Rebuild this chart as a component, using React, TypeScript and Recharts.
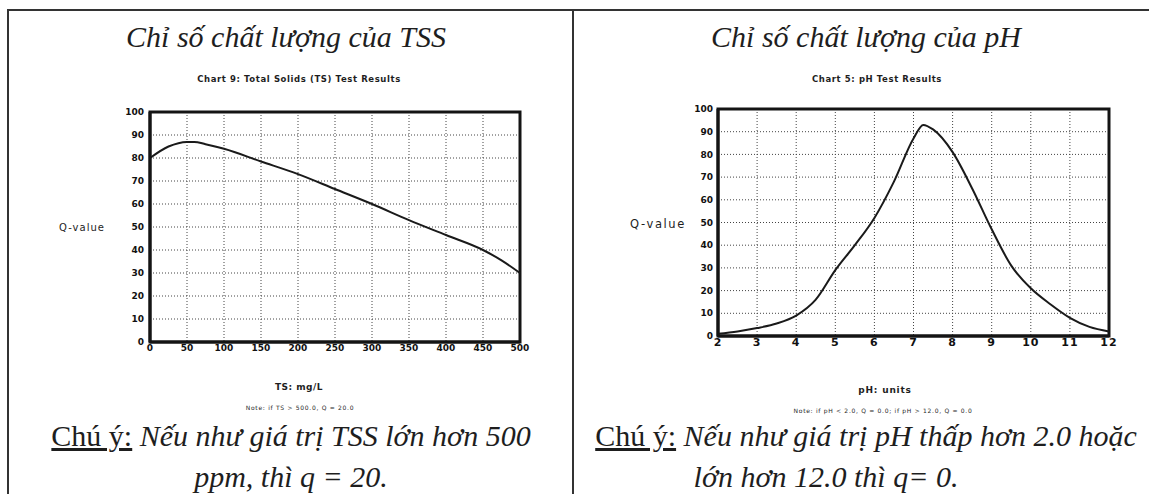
import React from "react";
import { LineChart, Line, XAxis, YAxis, CartesianGrid, ReferenceArea } from "recharts";

// TSS chart: Q-value vs TS (mg/L)
const tssX = [0, 25, 50, 60, 75, 100, 150, 200, 250, 300, 350, 400, 450, 475, 500];
const tssQ = [80, 85, 87, 87, 86, 84, 78.5, 73, 66.5, 60, 53, 46.5, 40, 35.5, 30];
const tssTicks = [0, 50, 100, 150, 200, 250, 300, 350, 400, 450, 500];

// pH chart: Q-value vs pH units
const phX = [2, 2.5, 3, 3.5, 4, 4.5, 5, 5.5, 6, 6.5, 7, 7.25, 7.5, 8, 8.5, 9, 9.5, 10, 10.5, 11, 11.5, 12];
const phQ = [1, 2, 3.5, 5.5, 9, 16, 29, 40, 52, 68, 87, 93, 91, 81, 65, 47, 31, 21, 14, 8, 4, 2];
const phTicks = [2, 3, 4, 5, 6, 7, 8, 9, 10, 11, 12];

const qTicks = [0, 10, 20, 30, 40, 50, 60, 70, 80, 90, 100];

const tssData = tssX.map((x, i) => ({ x, q: tssQ[i] }));
const phData = phX.map((x, i) => ({ x, q: phQ[i] }));

const SANS = "'DejaVu Sans', 'Liberation Sans', Arial, sans-serif";
const SERIF = "'Liberation Serif', 'Times New Roman', serif";
const INK = "#1e1e1e";

type TxtProps = { cx: number; base: number; size: number; children: React.ReactNode; bold?: boolean; italic?: boolean; family?: string; ls?: number };
const Txt = ({ cx, base, size, children, bold, italic, family, ls }: TxtProps) => (
  <div
    style={{
      position: "absolute",
      left: cx - 400,
      width: 800,
      top: base - size * 0.84,
      fontSize: size,
      lineHeight: `${size}px`,
      height: size,
      textAlign: "center",
      whiteSpace: "nowrap",
      fontFamily: family || SERIF,
      fontWeight: bold ? 700 : 400,
      fontStyle: italic ? "italic" : "normal",
      letterSpacing: ls || 0,
      color: INK,
    }}
  >
    {children}
  </div>
);

const Note = ({ cx, base, children, label }: { cx: number; base: number; children: React.ReactNode; label?: boolean }) => (
  <Txt cx={cx} base={base} size={30}>
    {label ? <span style={{ textDecoration: "underline" }}>Chú ý:</span> : null}
    {label ? " " : null}
    <span style={{ fontStyle: "italic" }}>{children}</span>
  </Txt>
);

const axisLine = { stroke: "#141414", strokeWidth: 3 };
const smallTick = { fontSize: 9, fill: "#111", fontFamily: SANS, fontWeight: 700 };

export default function App() {
  return (
    <div style={{ position: "absolute", left: 0, top: 0, width: 1149, height: 494, background: "#fff", overflow: "hidden", fontFamily: SANS }}>
      {/* table borders */}
      <div style={{ position: "absolute", left: 7, top: 9, width: 1142, height: 0, borderTop: "2px solid #333" }} />
      <div style={{ position: "absolute", left: 7, top: 9, width: 0, height: 485, borderLeft: "2px solid #333" }} />
      <div style={{ position: "absolute", left: 572, top: 9, width: 0, height: 485, borderLeft: "2px solid #333" }} />

      {/* Left: TSS */}
      <div style={{ position: "absolute", left: 0, top: 0 }}>
        <LineChart width={572} height={494} data={tssData} margin={{ top: 112, right: 52, bottom: 122, left: 110 }}>
          <CartesianGrid stroke="#444" strokeDasharray="1 2" />
          <XAxis dataKey="x" type="number" domain={[0, 500]} ticks={tssTicks} interval={0} tickLine={false} tickSize={0} tickMargin={3} height={30} axisLine={axisLine} tick={smallTick} />
          <YAxis type="number" domain={[0, 100]} ticks={qTicks} interval={0} tickLine={false} tickSize={0} tickMargin={6} width={40} axisLine={axisLine} tick={smallTick} />
          <ReferenceArea x1={0} x2={500} y1={0} y2={100} fill="none" stroke="#141414" strokeWidth={3} ifOverflow="visible" />
          <Line dataKey="q" type="monotone" stroke="#1a1a1a" strokeWidth={2} dot={false} isAnimationActive={false} />
        </LineChart>
      </div>

      {/* Right: pH */}
      <div style={{ position: "absolute", left: 572, top: 0 }}>
        <LineChart width={577} height={494} data={phData} margin={{ top: 109, right: 40, bottom: 128, left: 106 }}>
          <CartesianGrid stroke="#444" strokeDasharray="1 2" />
          <XAxis dataKey="x" type="number" domain={[2, 12]} ticks={phTicks} interval={0} tickLine={false} tickSize={0} tickMargin={2} height={30} axisLine={axisLine} tick={{ fontSize: 11, fill: "#111", fontFamily: SANS, fontWeight: 700, letterSpacing: 1 }} />
          <YAxis type="number" domain={[0, 100]} ticks={qTicks} interval={0} tickLine={false} tickSize={0} tickMargin={5} width={40} axisLine={axisLine} tick={smallTick} />
          <ReferenceArea x1={2} x2={12} y1={0} y2={100} fill="none" stroke="#141414" strokeWidth={3} ifOverflow="visible" />
          <Line dataKey="q" type="monotone" stroke="#1a1a1a" strokeWidth={2} dot={false} isAnimationActive={false} />
        </LineChart>
      </div>

      {/* Titles */}
      <Txt cx={286} base={47} size={30} italic>Chỉ số chất lượng của TSS</Txt>
      <Txt cx={866} base={47} size={30} italic>Chỉ số chất lượng của pH</Txt>

      {/* chart captions */}
      <Txt cx={299} base={82} size={8.5} bold family={SANS} ls={0.6}>Chart 9: Total Solids (TS) Test Results</Txt>
      <Txt cx={877} base={82} size={8.5} bold family={SANS} ls={0.6}>Chart 5: pH Test Results</Txt>

      <Txt cx={82} base={231} size={10} family={SANS} ls={1}>Q-value</Txt>
      <Txt cx={658} base={229} size={11.5} family={SANS} ls={1.6}>Q-value</Txt>

      <Txt cx={299} base={391} size={9} bold family={SANS} ls={0.5}>TS: mg/L</Txt>
      <Txt cx={885} base={394} size={9} bold family={SANS} ls={0.8}>pH: units</Txt>

      <Txt cx={300} base={410} size={6} family={SANS} ls={0.7}>Note: if TS &gt; 500.0, Q = 20.0</Txt>
      <Txt cx={883} base={413} size={6} family={SANS} ls={0.7}>Note: if pH &lt; 2.0, Q = 0.0; if pH &gt; 12.0, Q = 0.0</Txt>

      {/* notes */}
      <Note cx={291} base={446} label>Nếu như giá trị TSS lớn hơn 500</Note>
      <Note cx={291} base={487}>ppm, thì q = 20.</Note>
      <Note cx={866} base={446} label>Nếu như giá trị pH thấp hơn 2.0 hoặc</Note>
      <Note cx={826} base={487}>lớn hơn 12.0 thì q= 0.</Note>
    </div>
  );
}
